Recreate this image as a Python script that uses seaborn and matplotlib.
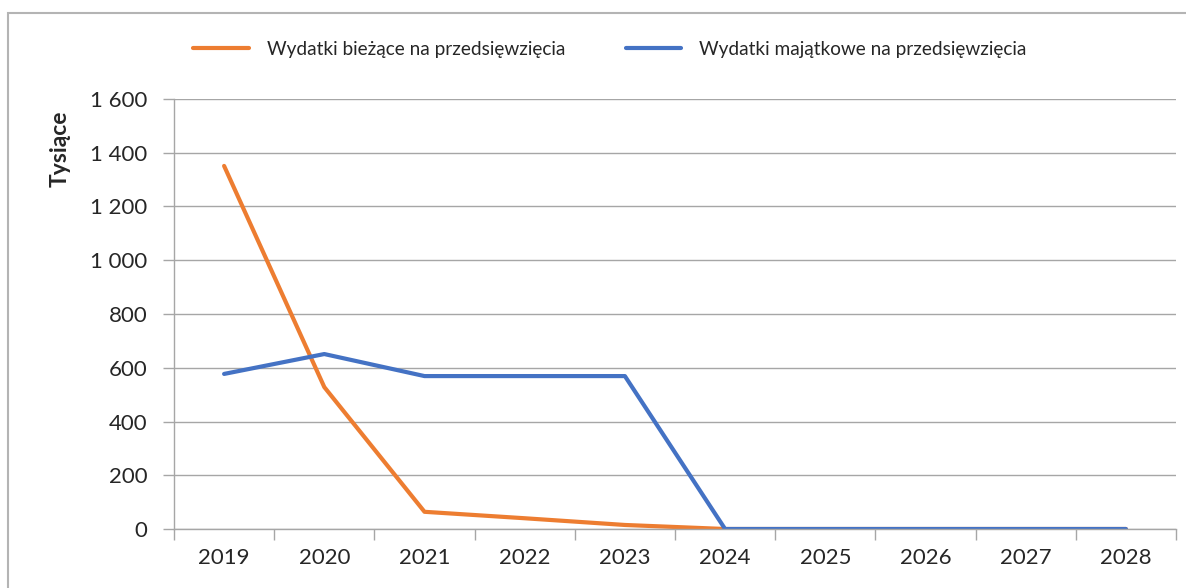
import matplotlib

matplotlib.use('Agg')

import pandas as pd
import matplotlib.pyplot as plt
import seaborn as sns
from matplotlib.patches import Rectangle
from matplotlib.ticker import FuncFormatter, FixedLocator

# data (thousands)
years = ['2019', '2020', '2021', '2022', '2023', '2024', '2025', '2026', '2027', '2028']
biezace = [1351, 528, 64, 40, 15, 0, 0, 0, 0, 0]
majatkowe = [577, 651, 569, 569, 569, 0, 0, 0, 0, 0]
series_names = ['Wydatki bieżące na przedsięwzięcia', 'Wydatki majątkowe na przedsięwzięcia']
colors = ['#ED7D31', '#4472C4']

df = pd.DataFrame({
    'rok': years * 2,
    'wartosc': biezace + majatkowe,
    'seria': [series_names[0]] * len(years) + [series_names[1]] * len(years),
})

sns.set_style('white')
plt.rcParams['font.family'] = ['Lato', 'DejaVu Sans']

fig = plt.figure(figsize=(11.86, 5.88), dpi=100)
ax = fig.add_axes([174 / 1186, 1 - 529 / 588, (1176 - 174) / 1186, (529 - 99) / 588])

sns.lineplot(data=df, x='rok', y='wartosc', hue='seria', palette=colors,
             linewidth=3, ax=ax, sort=False)

grid_c = '#A6A6A6'
ax.set_ylim(0, 1600)
ax.set_xlim(-0.5, len(years) - 0.5)
ax.set_yticks(range(0, 1601, 200))
ax.yaxis.set_major_formatter(FuncFormatter(lambda v, p: f'{int(v):,}'.replace(',', ' ')))
ax.grid(axis='y', color=grid_c, linewidth=1)
ax.set_axisbelow(True)

# category axis: labels at centres, tick marks between categories
ax.set_xticks(range(len(years)))
ax.set_xticklabels(years)
ax.xaxis.set_minor_locator(FixedLocator([i - 0.5 for i in range(len(years) + 1)]))
ax.tick_params(axis='x', which='major', length=0, pad=14, labelsize=16)
ax.tick_params(axis='x', which='minor', length=8, width=1, color=grid_c, direction='out')
ax.tick_params(axis='y', length=8, width=1, color=grid_c, pad=11, labelsize=16, direction='out')
ax.xaxis.set_ticks_position('bottom')
ax.yaxis.set_ticks_position('left')

for s in ['top', 'right']:
    ax.spines[s].set_visible(False)
for s in ['left', 'bottom']:
    ax.spines[s].set_color(grid_c)
    ax.spines[s].set_linewidth(1)

ax.set_xlabel('')
ax.set_ylabel('')
fig.text(60 / 1186, 1 - 149 / 588, 'Tysiące', rotation=90, ha='center', va='center',
         fontsize=16.5, fontweight='bold')

handles, labels = ax.get_legend_handles_labels()
ax.legend(handles, labels, loc='center', bbox_to_anchor=((610 - 174) / 1002, 1 + (99 - 49) / 430),
          ncol=2, frameon=False, fontsize=13.7, handlelength=2.9, handletextpad=0.95,
          columnspacing=3.2)

# outer chart border (cropped at right and bottom in the reference)
fig.patches.append(Rectangle((8 / 1186, -0.1), 1.2, 1.1 - 13 / 588, transform=fig.transFigure,
                             fill=False, edgecolor='#B4B4B4', linewidth=1.5))

fig.savefig('out.png', dpi=100)
